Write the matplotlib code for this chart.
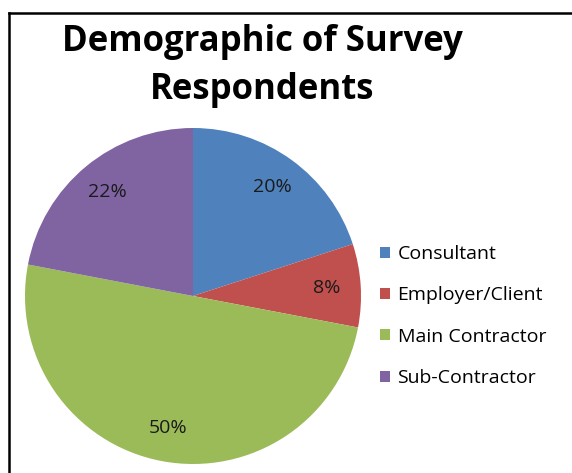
import matplotlib
matplotlib.use("Agg")
import matplotlib.pyplot as plt
from matplotlib.lines import Line2D
from matplotlib.patches import Patch

categories = ["Consultant", "Employer/Client", "Main Contractor", "Sub-Contractor"]
shares = [20, 8, 50, 22]
colors = ["#4F81BD", "#C0504D", "#9BBB59", "#8064A2"]
title = "Demographic of Survey\nRespondents"

plt.rcParams["font.family"] = ["Open Sans", "DejaVu Sans"]

W, H = 572, 473
fig = plt.figure(figsize=(W / 100, H / 100), dpi=100)

# pie: centre (193, 296) px, radius 168 px
cx, cy, r = 193, 296, 168
ax = fig.add_axes([(cx - r) / W, 1 - (cy + r) / H, 2 * r / W, 2 * r / H])
wedges, _, autotexts = ax.pie(
    shares, colors=colors, startangle=90, counterclock=False,
    autopct="%d%%", pctdistance=0.80, radius=1.0,
    textprops=dict(fontsize=14, color="#1a1a1a"),
)
ax.set_xlim(-1, 1)
ax.set_ylim(-1, 1)
ax.set_aspect("equal")
ax.axis("off")

fig.text(262 / W, 1 - 99 / H, title, ha="center", va="baseline",
         fontsize=25, fontweight="bold", linespacing=1.45, color="black")

handles = [Patch(facecolor=c, edgecolor="none") for c in colors]
fig.legend(handles, categories, loc="center left",
           bbox_to_anchor=(380 / W, 1 - 316 / H), frameon=False,
           borderpad=0, borderaxespad=0,
           fontsize=14, handlelength=0.5, handleheight=0.5,
           handletextpad=0.4, labelspacing=1.2)

# chart frame: left and top edges
fig.add_artist(Line2D([9 / W, 9 / W], [0, 1 - 13 / H], transform=fig.transFigure,
                      color="black", lw=1.8))
fig.add_artist(Line2D([9 / W, 1], [1 - 13 / H, 1 - 13 / H], transform=fig.transFigure,
                      color="black", lw=1.8))

fig.savefig("out.png", dpi=100)
